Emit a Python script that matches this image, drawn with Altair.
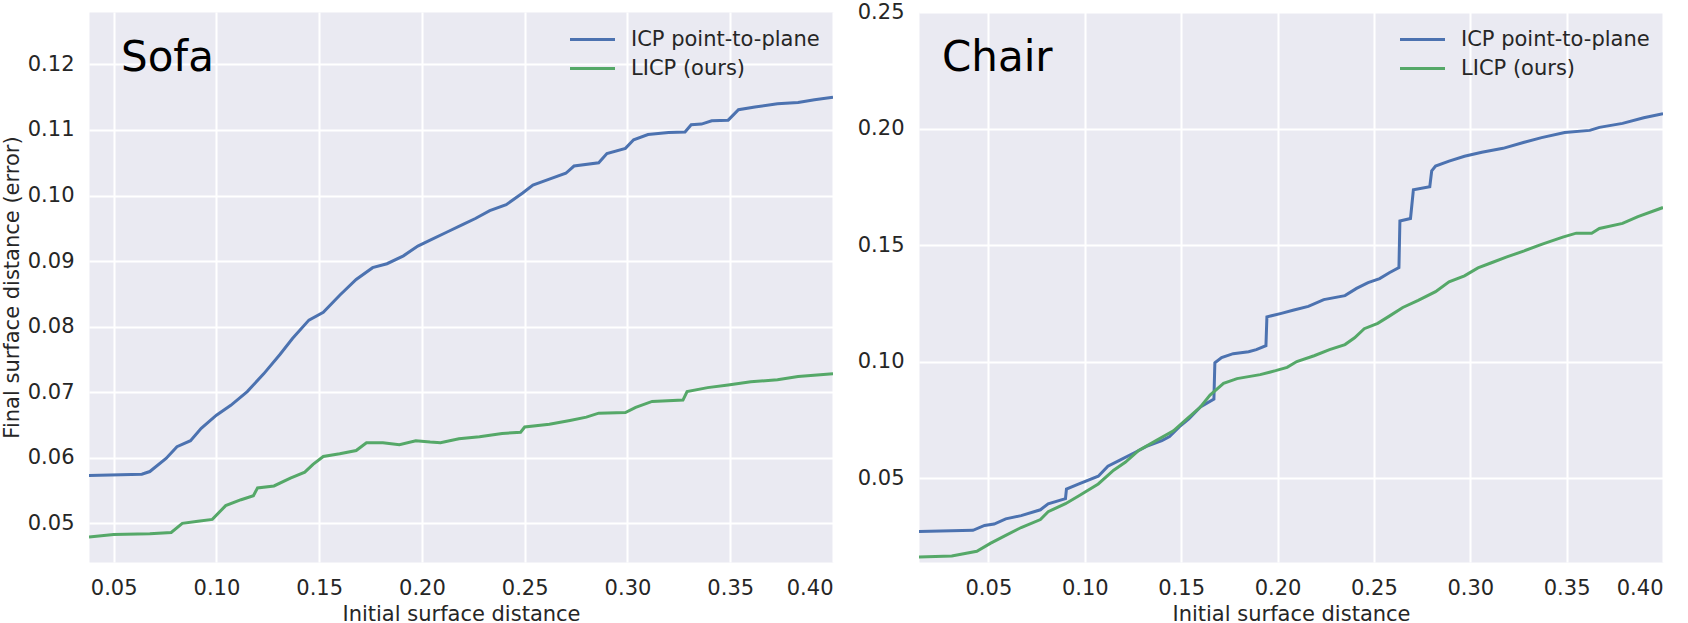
import altair as alt
import pandas as pd

methods = ["ICP point-to-plane", "LICP (ours)"]
colors = ["#4C72B0", "#55A868"]

x_ticks = [0.05, 0.10, 0.15, 0.20, 0.25, 0.30, 0.35, 0.40]
sofa_y_ticks = [0.05, 0.06, 0.07, 0.08, 0.09, 0.10, 0.11, 0.12]
chair_y_ticks = [0.05, 0.10, 0.15, 0.20, 0.25]

# Sofa panel
sofa_icp_x = [0.038, 0.0637, 0.0676, 0.0755, 0.0808, 0.0874, 0.0926, 0.100, 0.107, 0.115,
              0.123, 0.131, 0.137, 0.145, 0.152, 0.160, 0.168, 0.176, 0.183, 0.191,
              0.198, 0.204, 0.212, 0.220, 0.226, 0.233, 0.241, 0.249, 0.254, 0.262,
              0.270, 0.274, 0.286, 0.290, 0.299, 0.303, 0.310, 0.320, 0.328, 0.331,
              0.336, 0.341, 0.349, 0.354, 0.362, 0.373, 0.383, 0.391, 0.400]
sofa_icp_y = [0.0573, 0.0575, 0.0579, 0.0599, 0.0617, 0.0626, 0.0645, 0.0665, 0.0680, 0.0701,
              0.0728, 0.0758, 0.0782, 0.0810, 0.0822, 0.0848, 0.0872, 0.0890, 0.0896, 0.0908,
              0.0923, 0.0932, 0.0944, 0.0956, 0.0965, 0.0977, 0.0986, 0.1004, 0.1016, 0.1025,
              0.1034, 0.1045, 0.1050, 0.1064, 0.1072, 0.1085, 0.1093, 0.1096, 0.1097, 0.1108,
              0.1109, 0.1114, 0.1115, 0.1131, 0.1135, 0.1140, 0.1142, 0.1146, 0.1150]
sofa_licp_x = [0.038, 0.050, 0.0676, 0.078, 0.0834, 0.091, 0.098, 0.1045, 0.112, 0.118,
               0.120, 0.128, 0.136, 0.143, 0.147, 0.152, 0.160, 0.168, 0.173, 0.181,
               0.189, 0.197, 0.204, 0.209, 0.218, 0.228, 0.239, 0.248, 0.250, 0.262,
               0.272, 0.280, 0.286, 0.299, 0.304, 0.312, 0.327, 0.329, 0.339, 0.349,
               0.360, 0.373, 0.383, 0.400]
sofa_licp_y = [0.0479, 0.0483, 0.0484, 0.0486, 0.0500, 0.0503, 0.0506, 0.0527, 0.0536, 0.0542,
               0.0554, 0.0557, 0.0569, 0.0578, 0.0590, 0.0602, 0.0606, 0.0611, 0.0623, 0.0623,
               0.0620, 0.0626, 0.0624, 0.0623, 0.0629, 0.0632, 0.0637, 0.0639, 0.0647, 0.0651,
               0.0657, 0.0662, 0.0668, 0.0669, 0.0677, 0.0686, 0.0688, 0.0701, 0.0707, 0.0711,
               0.0716, 0.0719, 0.0724, 0.0728]

# Chair panel
chair_icp_x = [0.014, 0.042, 0.048, 0.053, 0.059, 0.067, 0.077, 0.081, 0.090, 0.0905,
               0.097, 0.107, 0.112, 0.118, 0.126, 0.132, 0.140, 0.144, 0.149, 0.154,
               0.160, 0.167, 0.1675, 0.171, 0.177, 0.185, 0.189, 0.194, 0.1945, 0.202,
               0.208, 0.216, 0.224, 0.235, 0.241, 0.247, 0.253, 0.258, 0.263, 0.2635,
               0.269, 0.2705, 0.279, 0.280, 0.282, 0.289, 0.297, 0.306, 0.317, 0.328,
               0.337, 0.349, 0.362, 0.367, 0.379, 0.390, 0.400]
chair_icp_y = [0.0271, 0.0276, 0.0297, 0.0303, 0.0325, 0.0339, 0.0364, 0.0390, 0.0412, 0.0453,
               0.0475, 0.0508, 0.0551, 0.0576, 0.0610, 0.0636, 0.0661, 0.0678, 0.0720, 0.0754,
               0.0805, 0.0839, 0.0995, 0.1017, 0.1034, 0.1042, 0.1051, 0.1068, 0.1192, 0.1207,
               0.1220, 0.1237, 0.1266, 0.1283, 0.1314, 0.1339, 0.1356, 0.1381, 0.1403, 0.1603,
               0.1614, 0.1737, 0.1750, 0.1818, 0.1839, 0.1860, 0.1881, 0.1898, 0.1915, 0.1941,
               0.1961, 0.1983, 0.1992, 0.2005, 0.2022, 0.2046, 0.2064]
chair_licp_x = [0.014, 0.031, 0.044, 0.051, 0.059, 0.067, 0.077, 0.081, 0.090, 0.097,
                0.107, 0.115, 0.121, 0.128, 0.137, 0.146, 0.153, 0.160, 0.165, 0.172,
                0.179, 0.191, 0.199, 0.205, 0.210, 0.219, 0.227, 0.235, 0.240, 0.245,
                0.252, 0.258, 0.265, 0.273, 0.282, 0.289, 0.297, 0.304, 0.311, 0.319,
                0.328, 0.337, 0.348, 0.355, 0.363, 0.367, 0.379, 0.387, 0.400]
chair_licp_y = [0.0161, 0.0166, 0.0186, 0.0220, 0.0254, 0.0288, 0.0322, 0.0356, 0.0390, 0.0424,
                0.0475, 0.0534, 0.0568, 0.0619, 0.0661, 0.0703, 0.0754, 0.0805, 0.0856, 0.0907,
                0.0927, 0.0944, 0.0961, 0.0975, 0.1000, 0.1025, 0.1051, 0.1073, 0.1102, 0.1141,
                0.1164, 0.1195, 0.1232, 0.1263, 0.1300, 0.1342, 0.1368, 0.1402, 0.1424, 0.1449,
                0.1475, 0.1503, 0.1534, 0.1551, 0.1551, 0.1571, 0.1593, 0.1622, 0.1661]

FONT = "DejaVu Sans"
TEXT = "#262626"


def frame(xs_icp, ys_icp, xs_licp, ys_licp):
    rows = []
    for i, (a, b) in enumerate(zip(xs_icp, ys_icp)):
        rows.append({"method": methods[0], "i": i, "x": a, "y": b})
    for i, (a, b) in enumerate(zip(xs_licp, ys_licp)):
        rows.append({"method": methods[1], "i": i, "x": a, "y": b})
    return pd.DataFrame(rows)


def panel(df, name, dx, xdom, ydom, yticks, ytitle):
    yaxis = alt.Axis(values=yticks, format=".2f", title=ytitle)
    lines = alt.Chart(df).mark_line(strokeWidth=3, clip=True).encode(
        x=alt.X("x:Q", scale=alt.Scale(domain=xdom, nice=False, zero=False),
                axis=alt.Axis(values=x_ticks, format=".2f", title="Initial surface distance")),
        y=alt.Y("y:Q", scale=alt.Scale(domain=ydom, nice=False, zero=False), axis=yaxis),
        color=alt.Color(
            "method:N",
            scale=alt.Scale(domain=methods, range=colors),
            legend=alt.Legend(
                title=None, orient="none", legendX=493, legendY=17,
                symbolType="M-3,0H3", symbolSize=225, symbolStrokeWidth=3,
                labelOffset=28, labelFontSize=21, labelFont=FONT, labelColor=TEXT,
                rowPadding=7, padding=0, labelLimit=400,
            ),
        ),
        order="i:Q",
    )
    label = alt.Chart(pd.DataFrame({"label": [name]})).mark_text(
        align="left", baseline="alphabetic", fontSize=42, font=FONT, color="black"
    ).encode(x=alt.value(dx), y=alt.value(59), text="label:N")
    return alt.layer(lines, label).properties(width=744, height=550)


sofa = panel(frame(sofa_icp_x, sofa_icp_y, sofa_licp_x, sofa_licp_y), "Sofa", 32,
             [0.038, 0.40], [0.0441, 0.128], sofa_y_ticks, "Final surface distance (error)")
chair = panel(frame(chair_icp_x, chair_icp_y, chair_licp_x, chair_licp_y), "Chair", 23,
              [0.014, 0.40], [0.014, 0.25], chair_y_ticks, None)

chart = alt.hconcat(sofa, chair, spacing=86, bounds="flush").resolve_scale(
    color="independent", x="independent", y="independent"
).resolve_legend(color="independent").properties(
    padding={"left": 0, "top": 0, "right": 0, "bottom": 0},
    background="white",
).configure_view(
    fill="#EAEAF2", stroke="transparent"
).configure_axis(
    domain=False, ticks=False, grid=True, gridColor="white", gridWidth=2,
    labelFont=FONT, labelFontSize=21, labelColor=TEXT, labelPadding=15,
    titleFont=FONT, titleFontSize=21, titleColor=TEXT, titleFontWeight="normal",
    titlePadding=5,
)

chart.save("out.html", embed_options={"renderer": "svg", "actions": False})
